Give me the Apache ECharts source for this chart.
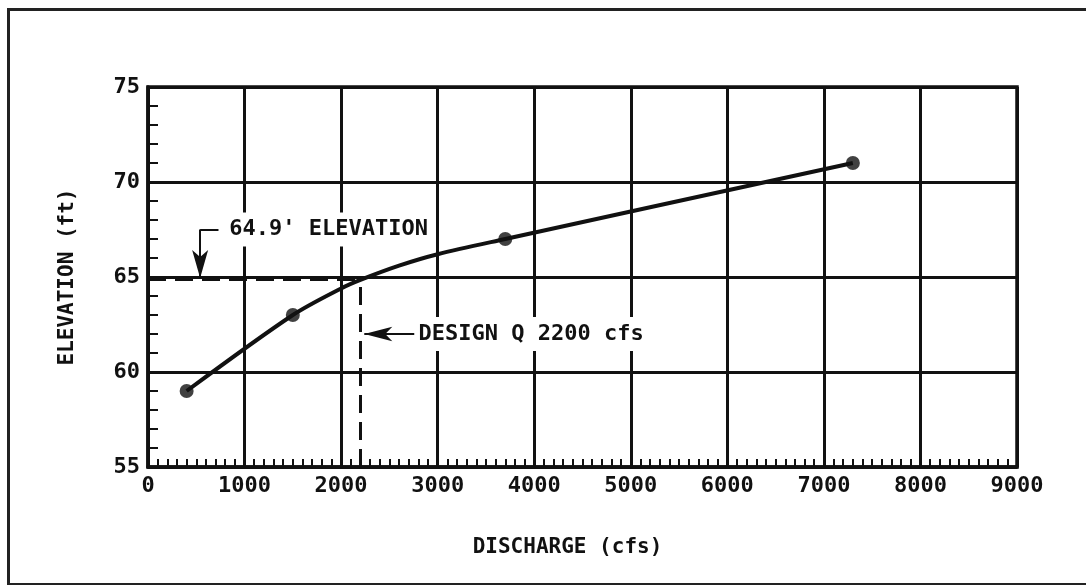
<!DOCTYPE html>
<html>
<head>
<meta charset="utf-8">
<script src="https://cdn.jsdelivr.net/npm/echarts@6/dist/echarts.min.js"></script>
<style>
	html, body { margin: 0; padding: 0; background: #fff; }
	#chart { width: 1086px; height: 585px; }
</style>
</head>
<body>
<div id="chart"></div>
<script>
// rating curve
const curveQ = [400, 1500, 2000, 2200, 2600, 3000, 3700, 7300];
const curveElev = [59, 63, 64.4, 64.85, 65.6, 66.2, 67, 71];
// plotted (measured) points
const pointQ = [400, 1500, 3700, 7300];
const pointElev = [59, 63, 67, 71];
// design annotation
const designQ = 2200;
const designElev = 64.9;
const elevLabel = "64.9' ELEVATION";
const designLabel = "DESIGN Q 2200 cfs";

const ink = "#111";
const font = "DejaVu Sans Mono";

const chart = echarts.init(document.getElementById("chart"));

chart.setOption({
	backgroundColor: "#fff",
	animation: false,
	textStyle: { fontFamily: font, color: ink },
	graphic: [
		{
			type: "rect",
			left: 6, top: 7,
			shape: { width: 1110, height: 575 },
			style: { fill: "none", stroke: "#222", lineWidth: 3 }
		}
	],
	grid: {
		left: 148, right: 69, top: 87, bottom: 118,
		show: true,
		borderColor: ink,
		borderWidth: 3.5
	},
	xAxis: {
		type: "value",
		min: 0, max: 9000, interval: 1000,
		name: "DISCHARGE (cfs)",
		nameLocation: "middle",
		nameGap: 70,
		nameTextStyle: { fontFamily: font, fontSize: 21, fontWeight: "bold", color: ink, padding: [0, 30, 0, 0] },
		axisLine: { lineStyle: { color: ink, width: 3.5 } },
		axisTick: { show: true, inside: true, length: 8, lineStyle: { color: ink, width: 2 } },
		minorTick: { show: true, splitNumber: 10, length: 8, lineStyle: { color: ink, width: 2 } },
		axisLabel: { fontFamily: font, fontSize: 22, fontWeight: "bold", color: ink, margin: 8, formatter: (v) => String(v) },
		splitLine: { show: true, lineStyle: { color: ink, width: 3 } }
	},
	yAxis: {
		type: "value",
		min: 55, max: 75, interval: 5,
		name: "ELEVATION (ft)",
		nameLocation: "middle",
		nameGap: 70,
		nameTextStyle: { fontFamily: font, fontSize: 21, fontWeight: "bold", color: ink },
		axisLine: { show: true, lineStyle: { color: ink, width: 3.5 } },
		axisTick: { show: true, inside: true, length: 10, lineStyle: { color: ink, width: 2 } },
		minorTick: { show: true, splitNumber: 5, length: 10, lineStyle: { color: ink, width: 2 } },
		axisLabel: { fontFamily: font, fontSize: 22, fontWeight: "bold", color: ink, margin: 8, formatter: (v) => String(v) },
		splitLine: { show: true, lineStyle: { color: ink, width: 3 } }
	},
	series: [
		{
			type: "line",
			data: curveQ.map((q, i) => [q, curveElev[i]]),
			smooth: 0.3,
			showSymbol: false,
			lineStyle: { color: ink, width: 4 },
			z: 3,
			markLine: {
				silent: true,
				symbol: ["none", "none"],
				label: { show: false },
				data: [
					// dashed design lines
					[
						{ coord: [0, designElev], lineStyle: { type: [18, 9], width: 3, color: ink } },
						{ coord: [designQ, designElev] }
					],
					[
						{ coord: [designQ, 55], lineStyle: { type: [18, 9], width: 3, color: ink } },
						{ coord: [designQ, designElev] }
					],
					// leader for elevation label
					[
						{ coord: [730, 67.5], lineStyle: { type: "solid", width: 2, color: ink } },
						{ coord: [540, 67.5] }
					],
					[
						{ coord: [540, 67.5], symbol: "none", lineStyle: { type: "solid", width: 2, color: ink } },
						{ coord: [540, designElev + 0.05], symbol: "arrow", symbolSize: [12, 28] }
					],
					// leader for design discharge label
					[
						{ coord: [2760, 62], symbol: "none", lineStyle: { type: "solid", width: 2, color: ink } },
						{ coord: [2240, 62], symbol: "arrow", symbolSize: [11, 28] }
					]
				]
			},
			markPoint: {
				silent: true,
				symbol: "rect",
				symbolSize: 0,
				label: {
					show: true,
					position: "right",
					distance: 0,
					fontFamily: font,
					fontSize: 22,
					fontWeight: "bold",
					color: ink,
					backgroundColor: "#fff",
					padding: [6, 4, 6, 4],
					formatter: (p) => p.name
				},
				data: [
					{ name: elevLabel, coord: [800, 67.5] },
					{ name: designLabel, coord: [2760, 62] }
				]
			}
		},
		{
			type: "scatter",
			data: pointQ.map((q, i) => [q, pointElev[i]]),
			symbolSize: 14,
			itemStyle: { color: "#111" },
			z: 4
		}
	]
});
</script>
</body>
</html>
